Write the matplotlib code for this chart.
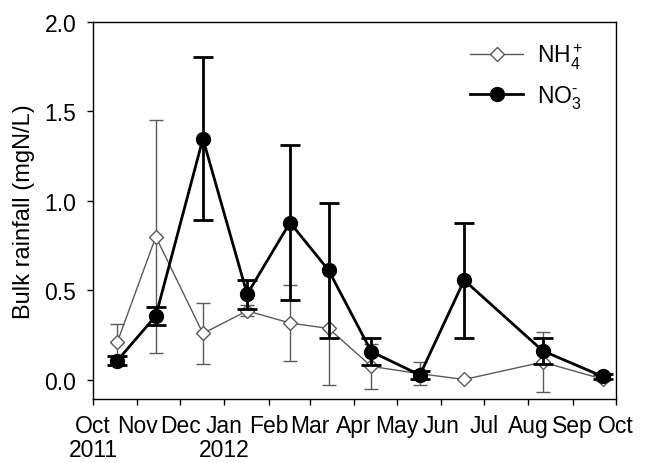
import matplotlib
matplotlib.use("Agg")
import matplotlib.pyplot as plt
import numpy as np
import pandas as pd

plt.rcParams['font.family'] = ['Liberation Sans', 'DejaVu Sans']
plt.rcParams['mathtext.fontset'] = 'custom'
plt.rcParams['mathtext.rm'] = 'Liberation Sans'
plt.rcParams['mathtext.it'] = 'Liberation Sans:italic'
plt.rcParams['mathtext.bf'] = 'Liberation Sans:bold'

# sampling dates
dates = ["2011-10-18", "2011-11-14", "2011-12-17", "2012-01-17", "2012-02-16",
         "2012-03-14", "2012-04-13", "2012-05-17", "2012-06-17", "2012-08-11",
         "2012-09-22"]
nh4 = [0.21, 0.80, 0.26, 0.386, 0.318, 0.288, 0.076, 0.035, 0.003, 0.10, 0.005]
nh4_err = [0.10, 0.65, 0.17, 0.03, 0.21, 0.316, 0.125, 0.065, 0.0, 0.167, 0.01]
no3 = [0.108, 0.358, 1.347, 0.479, 0.879, 0.613, 0.158, 0.028, 0.557, 0.163, 0.02]
no3_err = [0.025, 0.05, 0.456, 0.08, 0.43, 0.377, 0.075, 0.02, 0.32, 0.073, 0.015]

tick_dates = ["2011-10-01", "2011-11-01", "2011-12-01", "2012-01-01", "2012-02-01",
              "2012-03-01", "2012-04-01", "2012-05-01", "2012-06-01", "2012-07-01",
              "2012-08-01", "2012-09-01", "2012-10-01"]
tick_labels = ["Oct\n2011", "Nov", "Dec", "Jan\n2012", "Feb", "Mar", "Apr", "May",
               "Jun", "Jul", "Aug", "Sep", "Oct"]

x = pd.to_datetime(dates)
xt = pd.to_datetime(tick_dates)

fig = plt.figure(figsize=(6.48, 4.64), dpi=100)
ax = fig.add_axes([93/648, 1-400/464, (615.5-93)/648, (400-22.7)/464])

grey = '#5a5a5a'
ax.errorbar(x, nh4, yerr=nh4_err, fmt='none', ecolor=grey, elinewidth=1.0,
            capsize=5, capthick=1.0, zorder=2)
ax.plot(x, nh4, color=grey, lw=1.0, marker='D', markersize=7,
        markerfacecolor='white', markeredgecolor=grey, markeredgewidth=1.0,
        label='NH$_4^+$', zorder=3)
ax.errorbar(x, no3, yerr=no3_err, fmt='none', ecolor='black', elinewidth=2.0,
            capsize=7, capthick=2.0, zorder=4)
ax.plot(x, no3, color='black', lw=2.0, marker='o', markersize=10,
        markerfacecolor='black', markeredgecolor='black',
        label='NO$_3^{\\text{-}}$', zorder=5)

ax.set_xlim(xt[0], xt[-1])
ax.set_ylim(-0.106, 2.0)
ax.set_xticks(xt)
ax.set_xticklabels(tick_labels, fontsize=16.5, linespacing=1.02)
ax.set_yticks([0.0, 0.5, 1.0, 1.5, 2.0])
ax.set_yticklabels(["0.0", "0.5", "1.0", "1.5", "2.0"], fontsize=16.5)
ax.tick_params(axis='x', direction='out', length=4, width=1, pad=7)
ax.tick_params(axis='y', direction='out', length=4, width=1, pad=8)
ax.set_ylabel("Bulk rainfall (mgN/L)", fontsize=17, labelpad=7)
for s in ax.spines.values():
    s.set_linewidth(1.0)

leg = ax.legend(loc='upper right', bbox_to_anchor=(0.967, 0.987), frameon=False,
                fontsize=16.5, numpoints=1, handlelength=2.3, labelspacing=0.55,
                borderaxespad=0.35, handletextpad=0.6, borderpad=0.3)

fig.savefig("out.png", dpi=100)
